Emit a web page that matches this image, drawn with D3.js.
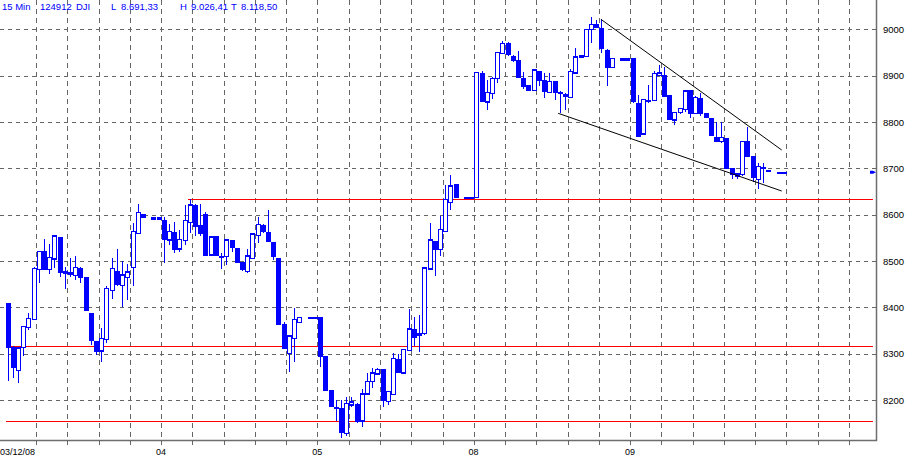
<!DOCTYPE html>
<html><head><meta charset="utf-8">
<script src="https://cdn.jsdelivr.net/npm/d3@7/dist/d3.min.js"></script>
<style>
body{margin:0;background:#fff;}
svg{display:block;}
text{font-family:"Liberation Sans",Arial,sans-serif;}
</style>
</head><body>
<svg id="chart" width="907" height="458"></svg>
<script>
// ---- data (15-min bars, DJI; null = no bar) ----
const opens  = [8409,8312,8263,8314,8357,8374,8482,8520,8482,8504,8550,8476,8474,8468,8484,8463,8387,8327,8306,8330,8437,8477,8447,8465,8486,8560,8601,null,8593,8593,
 8587,8545,8562,8526,8544,8583,8619,8576,8600,8513,8552,8509,8509,8543,8527,8496,8478,8506,8555,8576,8561,8540,8504,8362,8301,8333,8368,null,8378,8378,
 8378,8294,8220,8184,8182,8128,8189,8191,8155,8213,8240,8256,8265,8197,8212,8288,8258,8307,8351,8344,8343,8483,8541,8525,8563,8626,8664,null,8637,8637,
 8637,8904,8843,8862,8894,8948,8968,8940,8932,8894,8878,8868,8909,8889,8863,8887,8864,8860,8853,8906,8940,8942,9000,9009,9002,8955,8918,null,8936,8936,
 8936,8839,8774,8844,8846,8901,8899,8856,8804,8820,8827,8867,8819,8851,8819,8808,8767,8758,8765,8700,8688,8686,8758,8725,8676,8700,8695,null,8691.33,8691.33];
const highs  = [8410,8317,8313,8360,8388,8486,8522,8547,8537,8557,8551,8488,8506,8511,8486,8463,8388,8327,8355,8446,8506,8525,8499,8494,8581,8623,8602,null,8593,8593,
 8594,8580,8585,8567,8621,8633,8624,8624,8605,8553,8553,8518,8547,8545,8528,8497,8525,8560,8596,8580,8610,8541,8504,8369,8340,8398,8380,null,8378,8378,
 8378,8294,8221,8200,8200,8207,8207,8193,8223,8259,8268,8268,8266,8220,8301,8300,8310,8396,8380,8384,8485,8582,8542,8597,8664,8686,8665,null,8637,8637,
 8908,8909,8891,8896,8952,8975,8973,8945,8953,8907,8879,8914,8910,8905,8905,8888,8866,8862,8914,8959,8945,9001,9026.41,9020,9022,8957,8939,null,8936,8936,
 8937,8858,8850,8880,8909,8923,8918,8857,8822,8831,8869,8868,8855,8862,8820,8809,8801,8801,8766,8701,8690,8759,8790,8727,8711,8711,8695,null,8691.33,8691.33];
const lows   = [8240,8247,8236,8296,8351,8372,8453,8482,8472,8484,8466,8439,8465,8459,8452,8392,8319,8297,8283,8324,8418,8445,8401,8416,8445,8559,8594,null,8593,8593,
 8496,8534,8518,8520,8534,8561,8554,8553,8512,8512,8511,8482,8491,8520,8495,8479,8473,8504,8538,8560,8540,8502,8362,8310,8261,8281,8366,null,8378,8378,
 8272,8219,8184,8155,8118.5,8122,8185,8150,8141,8211,8225,8254,8184,8189,8210,8258,8256,8305,8317,8304,8341,8480,8468,8511,8562,8610,8636,null,8637,8637,
 8636,8843,8825,8850,8885,8947,8943,8930,8895,8871,8867,8866,8878,8851,8862,8848,8819,8826,8852,8904,8938,8940,8971,9003,8948,8878,8917,null,8936,8936,
 8842,8769,8772,8842,8845,8900,8855,8804,8793,8818,8822,8808,8817,8812,8808,8770,8756,8754,8698,8676,8678,8684,8724,8671,8655,8668,8695,null,8691.33,8691.33];
const closes = [8314,8271,8312,8358,8376,8484,8521,8483,8508,8554,8475,8473,8473,8486,8465,8393,8328,8304,8333,8441,8484,8450,8470,8476,8563,8604,8594,null,8593,8593,
 8547,8564,8526,8547,8588,8621,8575,8560,8513,8552,8512,8509,8545,8530,8496,8481,8511,8558,8578,8563,8542,8509,8363,8312,8338,8374,8378,null,8378,8378,
 8294,8220,8186,8184,8130,8193,8196,8155,8213,8240,8258,8266,8199,8219,8290,8259,8309,8353,8335,8340,8485,8545,8526,8568,8633,8662,8637,null,8637,8637,
 8907,8844,8864,8894,8950,8970,8945,8932,8896,8876,8869,8912,8889,8866,8887,8863,8862,8855,8909,8940,8944,9000,9011,9004,8959,8918,8937,null,8936,8936,
 8844,8770,8849,8847,8904,8906,8856,8806,8820,8829,8867,8819,8853,8819,8810,8772,8758,8767,8700,8688,8683,8758,8725,8681,8704,8702,8695,null,8691.33,8691.33];

const yTicks = [8200,8300,8400,8500,8600,8700,8800,8900,9000];
const dayLabels = ["03/12/08","04","05","08","09"];
const dayStartIdx = [-1.5,28.5,58.5,88.5,118.5];
const levelValues = [8633,8315,8153];
const levelStartIdx = [35,0,0];
const trendStartIdx = [113.9,105.7];
const trendStartVal = [9021.6,8818.7];
const trendEndIdx = [148.6,148.6];
const trendEndVal = [8739.5,8651];
const headerTexts = ["15 Min","124912","DJI","L","8.691,33","H","9.026,41","T","8.118,50"];
const lastValue = 8691.33;

// ---- drawing ----
const W = 907, H = 458, plotR = 876, plotB = 440;
const svg = d3.select("#chart");
const x = d3.scaleLinear().domain([0,149]).range([7.5, 7.5 + 5.21*149]);
const y = d3.scaleLinear().domain([8200,9000]).range([400,29.3]);
const blue = "#0000ff";

svg.append("rect").attr("width",W).attr("height",H).attr("fill","#fff");

// grid
const gridIdx = d3.range(0,27).map(k => 5.5 + 6*k);
const g = svg.append("g").attr("shape-rendering","crispEdges");
g.selectAll("line.vg").data(gridIdx).join("line")
  .attr("x1",d=>Math.round(x(d))+0.5).attr("x2",d=>Math.round(x(d))+0.5)
  .attr("y1",0).attr("y2",plotB)
  .attr("stroke","#666").attr("stroke-dasharray","5,4");
g.selectAll("line.hg").data(yTicks).join("line")
  .attr("x1",0).attr("x2",plotR)
  .attr("y1",d=>Math.round(y(d))+0.5).attr("y2",d=>Math.round(y(d))+0.5)
  .attr("stroke","#666").attr("stroke-dasharray","4,4");

// red level lines
g.selectAll("line.lv").data(levelValues).join("line")
  .attr("x1",(d,i)=>x(levelStartIdx[i])-2).attr("x2",plotR-3)
  .attr("y1",d=>Math.floor(y(d))+0.5).attr("y2",d=>Math.floor(y(d))+0.5)
  .attr("stroke","#ff0000").attr("stroke-width",1);

// candles
const bars = opens.map((o,i)=>({i,o,h:highs[i],l:lows[i],c:closes[i]})).filter(d=>d.o!==null);
const cg = svg.append("g").attr("shape-rendering","crispEdges");
cg.selectAll("line.w").data(bars).join("line")
  .attr("x1",d=>Math.round(x(d.i))+0.5).attr("x2",d=>Math.round(x(d.i))+0.5)
  .attr("y1",d=>y(d.h)).attr("y2",d=>y(d.l))
  .attr("stroke",blue).attr("stroke-width",1.3);
cg.selectAll("rect.b").data(bars).join("rect")
  .attr("x",d=>Math.round(x(d.i))-1.5)
  .attr("width",4)
  .attr("y",d=>y(Math.max(d.o,d.c)))
  .attr("height",d=>Math.max(1, Math.abs(y(d.o)-y(d.c))))
  .attr("fill",d=>d.c>d.o? "#fff" : blue)
  .attr("stroke",blue).attr("stroke-width",1.3);

// trend lines
svg.selectAll("line.tr").data(trendStartIdx).join("line")
  .attr("x1",(d,i)=>x(d)).attr("y1",(d,i)=>y(trendStartVal[i]))
  .attr("x2",(d,i)=>x(trendEndIdx[i])).attr("y2",(d,i)=>y(trendEndVal[i]))
  .attr("stroke","#000").attr("stroke-width",1);

// frame
svg.append("line").attr("x1",plotR+0.5).attr("x2",plotR+0.5).attr("y1",0).attr("y2",plotB+1)
  .attr("stroke","#6e6e6e").attr("stroke-width",1.5);
svg.append("line").attr("x1",0).attr("x2",plotR+1).attr("y1",plotB+0.5).attr("y2",plotB+0.5)
  .attr("stroke","#6e6e6e").attr("stroke-width",1.5);

// bottom ticks
svg.append("g").attr("shape-rendering","crispEdges").selectAll("line").data(gridIdx).join("line")
  .attr("x1",d=>Math.round(x(d))+0.5).attr("x2",d=>Math.round(x(d))+0.5)
  .attr("y1",plotB).attr("y2",plotB+5).attr("stroke","#666");

// y axis
const ya = svg.append("g").attr("transform",`translate(${plotR},0)`)
  .call(d3.axisRight(y).tickValues(yTicks).tickSize(0).tickPadding(7).tickFormat(d3.format("d")));
ya.select(".domain").remove();
ya.selectAll("text").attr("font-size",9.5).attr("fill","#000").attr("font-family","Liberation Sans, Arial, sans-serif");

// x (day) labels
svg.selectAll("text.day").data(dayLabels).join("text")
  .attr("x",(d,i)=>Math.max(0,x(dayStartIdx[i])))
  .attr("y",455).attr("font-size",9).attr("fill","#000").text(d=>d);

// last value marker
const ly = y(lastValue);
svg.append("path").attr("d",`M870,${ly-1.5}h3l3,1.5l-3,1.5h-3z`).attr("fill",blue);

// header
const hx = [2,40,76,111,121,180,191,231,241];
svg.selectAll("text.hd").data(headerTexts).join("text")
  .attr("x",(d,i)=>hx[i]).attr("y",10).attr("font-size",9.5).attr("fill",blue).text(d=>d);
</script>
</body></html>
